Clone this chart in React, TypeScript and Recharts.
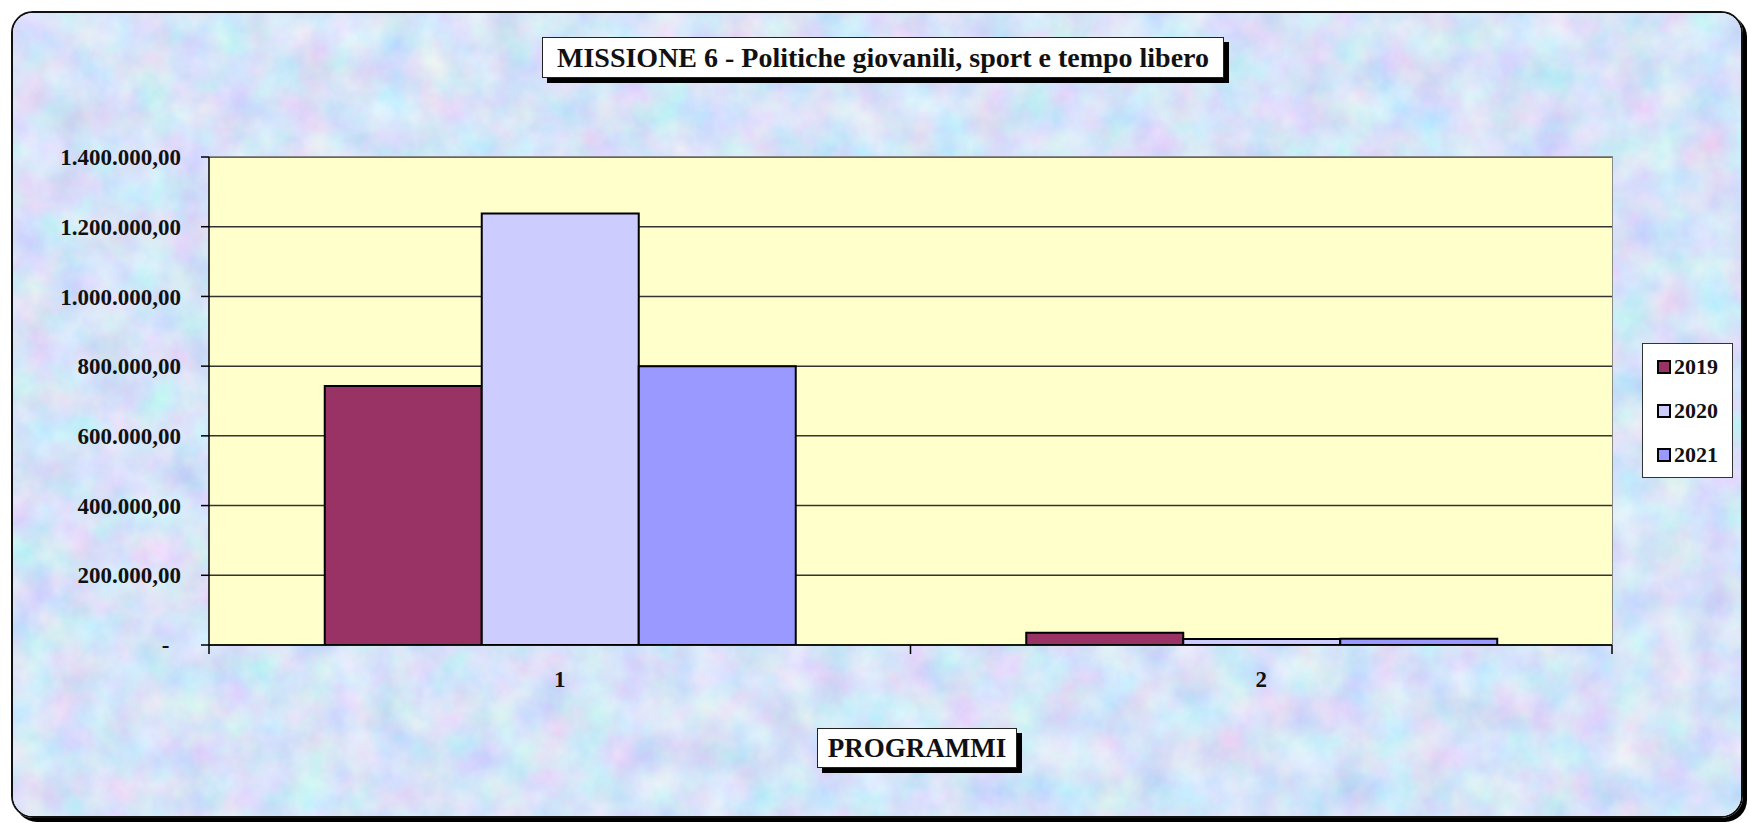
import React from 'react';
import {
  BarChart,
  Bar,
  XAxis,
  YAxis,
  CartesianGrid,
  Legend,
  ReferenceLine,
} from 'recharts';

// Data
const categories = ['1', '2'];
const values2019 = [743000, 35000];
const values2020 = [1238000, 17000];
const values2021 = [800000, 18000];
const yTicks = [0, 200000, 400000, 600000, 800000, 1000000, 1200000, 1400000];

const seriesNames = ['2019', '2020', '2021'];
const seriesColors = ['#993366', '#CCCCFF', '#9999FF'];

const data = categories.map((name, i) => ({
  name,
  '2019': values2019[i],
  '2020': values2020[i],
  '2021': values2021[i],
}));

// category boundary tick marks under the x axis (Excel style)
const boundaryMarks: { cat: string; pos: 'start' | 'end' }[] = [
  { cat: '1', pos: 'start' },
  { cat: '2', pos: 'start' },
  { cat: '2', pos: 'end' },
];

const W = 1749;
const H = 823;
const FONT = '"Liberation Serif", "Times New Roman", serif';

// Italian number format: 1.400.000,00 and "-" for zero
const formatEuro = (v: number) => {
  if (v === 0) return '-\u00a0\u00a0';
  const [int, dec] = v.toFixed(2).split('.');
  return int.replace(/\B(?=(\d{3})+$)/g, '.') + ',' + dec;
};

const renderLegend = () => (
  <div
    style={{
      background: '#fff',
      border: '1.5px solid #333',
      width: 91,
      height: 135,
      boxSizing: 'border-box',
      display: 'flex',
      flexDirection: 'column',
      justifyContent: 'center',
      gap: 17,
      paddingLeft: 14,
    }}
  >
    {seriesNames.map((name, i) => (
      <div key={name} style={{ display: 'flex', alignItems: 'center', height: 27 }}>
        <span
          style={{
            display: 'inline-block',
            width: 10,
            height: 10,
            background: seriesColors[i],
            border: '2px solid #000',
            marginRight: 3,
          }}
        />
        <span style={{ fontFamily: FONT, fontWeight: 'bold', fontSize: 22, color: '#111' }}>{name}</span>
      </div>
    ))}
  </div>
);

const boxStyle: React.CSSProperties = {
  position: 'absolute',
  background: '#fff',
  border: '1.5px solid #222',
  boxShadow: '5px 5px 0 #000',
  boxSizing: 'border-box',
  fontFamily: FONT,
  fontWeight: 'bold',
  color: '#111',
  display: 'flex',
  alignItems: 'center',
  justifyContent: 'center',
  whiteSpace: 'nowrap',
};

const App: React.FC = () => {
  return (
    <div style={{ position: 'absolute', left: 0, top: 0, width: W, height: H, overflow: 'hidden', background: '#fff' }}>
      {/* textured frame */}
      <div
        style={{
          position: 'absolute',
          left: 11,
          top: 11,
          width: 1732,
          height: 807,
          border: '2px solid #111',
          borderRadius: 22,
          boxShadow: '4px 4px 0 #000',
          overflow: 'hidden',
          boxSizing: 'border-box',
        }}
      >
        <svg width={1732} height={807} style={{ display: 'block' }}>
          <filter id="tex" x="0" y="0" width="100%" height="100%">
            <feTurbulence type="fractalNoise" baseFrequency="0.025" numOctaves={4} seed={7} />
            <feColorMatrix
              type="matrix"
              values="0.5 0 0 0 0.42  0 0.4 0 0 0.57  0 0 0.2 0 0.84  0 0 0 0 1"
            />
          </filter>
          <rect x={0} y={0} width={1732} height={807} filter="url(#tex)" />
        </svg>
      </div>

      <div style={{ position: 'absolute', left: 0, top: 0 }}>
        <BarChart
          width={W}
          height={H}
          data={data}
          margin={{ top: 157, right: 137, left: 9, bottom: 128 }}
          barCategoryGap="16.5%"
          barGap={0}
        >
          <CartesianGrid vertical={false} stroke="#333" strokeWidth={1.5} fill="#FFFFCC" fillOpacity={1} />
          <XAxis
            dataKey="name"
            height={50}
            axisLine={{ stroke: '#000', strokeWidth: 1.5 }}
            tickLine={false}
            tickMargin={20}
            tick={{ fontFamily: FONT, fontWeight: 'bold', fontSize: 23, fill: '#111' }}
          />
          <YAxis
            width={200}
            domain={[0, 1400000]}
            ticks={yTicks}
            interval={0}
            allowDataOverflow
            tickFormatter={formatEuro}
            tickSize={8}
            tickMargin={20}
            axisLine={{ stroke: '#000', strokeWidth: 1.5 }}
            tickLine={{ stroke: '#000', strokeWidth: 1.5 }}
            tick={{ fontFamily: FONT, fontWeight: 'bold', fontSize: 23, fill: '#111' }}
          />
          {boundaryMarks.map((m, i) => (
            <ReferenceLine
              key={i}
              segment={[
                { x: m.cat, y: 0 },
                { x: m.cat, y: -26000 },
              ]}
              position={m.pos}
              ifOverflow="visible"
              stroke="#000"
              strokeWidth={1.5}
            />
          ))}
          <Legend
            layout="horizontal"
            align="center"
            verticalAlign="middle"
            content={renderLegend}
            wrapperStyle={{ left: 1642, top: 343, width: 91, height: 135 }}
          />
          {seriesNames.map((name, i) => (
            <Bar
              key={name}
              dataKey={name}
              fill={seriesColors[i]}
              stroke="#000"
              strokeWidth={2}
              isAnimationActive={false}
            />
          ))}
        </BarChart>
      </div>

      {/* plot area top/right border */}
      <div
        style={{
          position: 'absolute',
          left: 209,
          top: 156,
          width: 1404,
          height: 489,
          borderTop: '1.5px solid #888',
          borderRight: '1.5px solid #888',
          boxSizing: 'border-box',
          pointerEvents: 'none',
        }}
      />

      <div style={{ ...boxStyle, left: 542, top: 37, width: 682, height: 41, fontSize: 28 }}>
        MISSIONE 6 - Politiche giovanili, sport e tempo libero
      </div>
      <div style={{ ...boxStyle, left: 817, top: 728, width: 200, height: 40, fontSize: 27 }}>
        PROGRAMMI
      </div>
    </div>
  );
};

export default App;
